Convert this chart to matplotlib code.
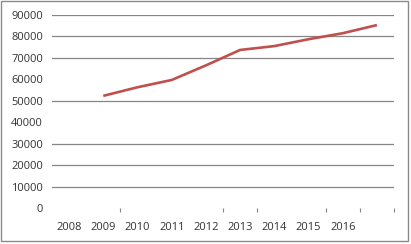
import numpy as np
import matplotlib
matplotlib.use("Agg")
import matplotlib.pyplot as plt
from matplotlib.patches import Rectangle

# categories (last slot has no label in the original)
years = ["2008", "2009", "2010", "2011", "2012", "2013", "2014", "2015", "2016", ""]
values = [np.nan, 52300, 56300, 59700, 66500, 73700, 75500, 78700, 81500, 85300]
y_ticks = [0, 10000, 20000, 30000, 40000, 50000, 60000, 70000, 80000, 90000]
# gridlines that show up in the picture
grid_vals = [10000, 20000, 30000, 50000, 70000, 80000, 90000]
# category boundaries whose tick marks show up
tick_bounds = [1.5, 4.5, 5.5, 7.5, 8.5, 9.5]

plt.rcParams["font.family"] = ["Open Sans", "DejaVu Sans"]

fig = plt.figure(figsize=(4.11, 2.44), dpi=100)
ax = fig.add_axes([52/411, 1 - 208/244, (394 - 52)/411, (208 - 15)/244])

x = np.arange(len(years))
ax.plot(x, values, color="#C0504D", lw=1.9, solid_joinstyle="round", solid_capstyle="butt")

for g in grid_vals:
    ax.axhline(g, color="#868686", lw=0.9, zorder=0)

ax.set_xlim(-0.5, len(years) - 0.5)
ax.set_ylim(0, 90000)

ax.set_yticks(y_ticks)
ax.set_yticklabels([str(v) for v in y_ticks])
ax.tick_params(axis="y", length=0, pad=6.5, labelsize=8, labelcolor="#333333")

ax.set_xticks(tick_bounds)
ax.set_xticklabels([])
ax.tick_params(axis="x", which="major", length=3, width=0.8, color="#868686")
ax.set_xticks(x, minor=True)
ax.set_xticklabels(years, minor=True)
ax.tick_params(axis="x", which="minor", length=0, pad=10, labelsize=8, labelcolor="#333333")

for s in ax.spines.values():
    s.set_visible(False)

fig.add_artist(Rectangle((1/411, 3/244), 407/411, 240/244, transform=fig.transFigure,
                         fill=False, ec="#8a8a8a", lw=1.0))

fig.savefig("out.png", dpi=100)
